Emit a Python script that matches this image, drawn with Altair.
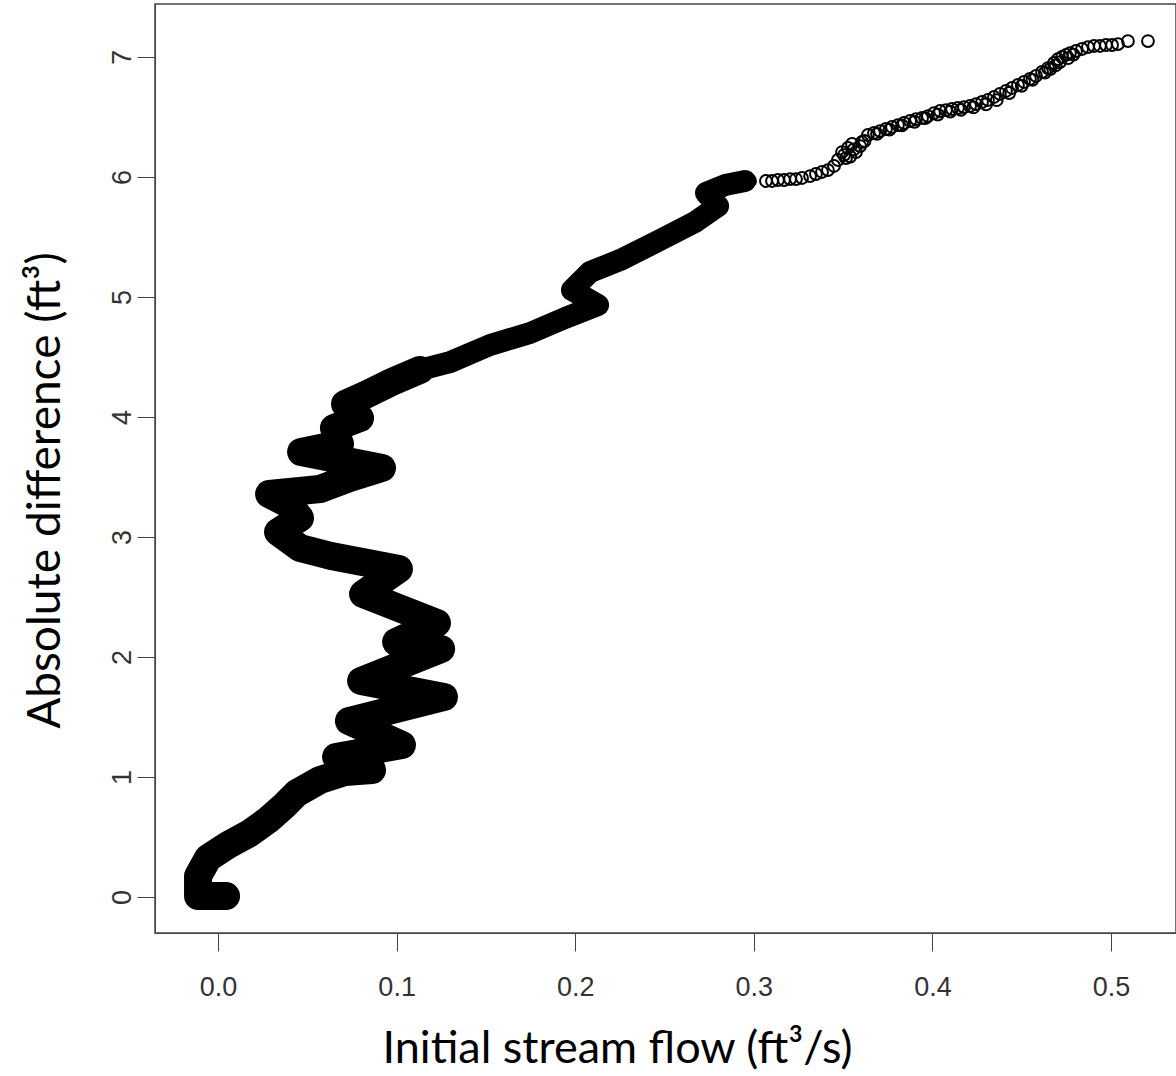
import altair as alt
import pandas as pd

# Dense part of the scatter (traced centre of the solid black band), ordered by y
band_x = [0.0045, -0.0112, -0.0112, -0.0056, 0.0056, 0.0179, 0.0280, 0.0375, 0.0442, 0.0571,
          0.0711, 0.0862, 0.0661, 0.1030, 0.0733, 0.1265, 0.0801, 0.1249, 0.0997, 0.1226,
          0.0812, 0.1013, 0.0633, 0.0459, 0.0336, 0.0459, 0.0403, 0.0286, 0.0571, 0.0739,
          0.0918, 0.0465, 0.0683, 0.0649, 0.0795, 0.0711, 0.0823, 0.0974, 0.1131,
          0.1299, 0.1523, 0.1747, 0.1943, 0.2128, 0.1982, 0.2083, 0.2251, 0.2475, 0.2671,
          0.2800, 0.2732, 0.2839, 0.2951]
band_y = [0.008, 0.008, 0.175, 0.325, 0.433, 0.533, 0.642, 0.767, 0.867, 0.975,
          1.042, 1.058, 1.167, 1.267, 1.467, 1.667, 1.800, 2.067, 2.125, 2.283,
          2.525, 2.733, 2.842, 2.908, 3.042, 3.158, 3.267, 3.358, 3.400, 3.492,
          3.575, 3.708, 3.775, 3.908, 3.992, 4.108, 4.183, 4.292, 4.392,
          4.458, 4.600, 4.700, 4.825, 4.933, 5.058, 5.208, 5.308, 5.475, 5.625,
          5.758, 5.867, 5.933, 5.967]

# Sparse upper part: individual open circles
pt_x = [0.2979, 0.3068, 0.3102, 0.3135, 0.3169, 0.3203, 0.3236, 0.3270, 0.3315, 0.3348,
        0.3382, 0.3415, 0.3449, 0.3471, 0.3494, 0.3516, 0.3527, 0.3550, 0.3572, 0.3595,
        0.3606, 0.3505, 0.3639, 0.3673, 0.3707, 0.3740, 0.3774, 0.3807, 0.3841, 0.3875,
        0.3908, 0.3942, 0.3975, 0.4009, 0.4043, 0.4076, 0.4110, 0.4143, 0.4177, 0.4211,
        0.4244, 0.4278, 0.4311, 0.4345, 0.4378, 0.4412, 0.4446, 0.4479, 0.4513, 0.4546,
        0.4580, 0.4614, 0.4647, 0.4681, 0.4714, 0.4703, 0.4726, 0.4748, 0.4770, 0.4804,
        0.4838, 0.4871, 0.4905, 0.4938, 0.4972, 0.5006, 0.5039, 0.5095, 0.5207,
        0.3540, 0.3560, 0.3620, 0.3690, 0.3760, 0.3830, 0.3900, 0.3960, 0.4030, 0.4100,
        0.4160, 0.4230, 0.4300, 0.4360, 0.4430, 0.4500, 0.4560, 0.4630, 0.4660, 0.4690,
        0.4760, 0.4790]
pt_y = [5.967, 5.967, 5.967, 5.975, 5.975, 5.983, 5.983, 5.992, 6.008, 6.025,
        6.042, 6.058, 6.092, 6.142, 6.208, 6.158, 6.242, 6.275, 6.208, 6.258,
        6.292, 6.183, 6.350, 6.367, 6.383, 6.400, 6.417, 6.433, 6.450, 6.467,
        6.483, 6.492, 6.508, 6.533, 6.550, 6.558, 6.567, 6.575, 6.583, 6.592,
        6.608, 6.625, 6.642, 6.667, 6.692, 6.717, 6.742, 6.767, 6.792, 6.817,
        6.842, 6.875, 6.908, 6.950, 6.958, 6.983, 7.000, 7.017, 7.033, 7.050,
        7.067, 7.083, 7.092, 7.092, 7.100, 7.100, 7.108, 7.133, 7.133,
        6.170, 6.230, 6.300, 6.360, 6.395, 6.430, 6.460, 6.490, 6.520, 6.545,
        6.560, 6.580, 6.605, 6.640, 6.700, 6.760, 6.810, 6.870, 6.900, 6.930,
        6.990, 7.020]

x_ticks = [0.0, 0.1, 0.2, 0.3, 0.4, 0.5]
y_ticks = [0, 1, 2, 3, 4, 5, 6, 7]

band = pd.DataFrame({"x": band_x, "y": band_y, "i": range(len(band_x))})
pts = pd.DataFrame({"x": band_x + pt_x, "y": band_y + pt_y})

xscale = alt.Scale(domain=[-0.0353, 0.5364], nice=False, zero=False)
yscale = alt.Scale(domain=[-0.3, 7.4417], nice=False, zero=False)

xaxis = alt.Axis(values=x_ticks, format=".1f", title="Initial stream flow (ft³/s)",
                 grid=False, tickSize=18, tickColor="#444", domainColor="#444",
                 labelFont="Liberation Sans", labelFontSize=27, labelColor="#333",
                 labelPadding=23, titleFont="Lato", titleFontSize=45, titleFontWeight="normal",
                 titleColor="black", titlePadding=26, titleX=462, titleAlign="center")
yaxis = alt.Axis(values=y_ticks, format="d", title="Absolute difference (ft³)",
                 grid=False, tickSize=18, tickColor="#444", domainColor="#444",
                 labelFont="Liberation Sans", labelFontSize=27, labelColor="#333",
                 labelAngle=-90, labelPadding=1, titleFont="Lato", titleFontSize=46,
                 titleFontWeight="normal", titleColor="black", titlePadding=39,
                 titleY=486, titleAlign="center")

base_band = alt.Chart(band)

band1 = base_band.transform_filter(alt.datum.y <= 4.4).mark_line(
    color="black", strokeWidth=28, strokeCap="round", strokeJoin="round"
).encode(
    x=alt.X("x:Q", scale=xscale, axis=xaxis),
    y=alt.Y("y:Q", scale=yscale, axis=yaxis),
    order="i:Q",
)

band2 = base_band.transform_filter(alt.datum.y >= 4.39).mark_line(
    color="black", strokeWidth=22, strokeCap="round", strokeJoin="round"
).encode(
    x=alt.X("x:Q", scale=xscale),
    y=alt.Y("y:Q", scale=yscale),
    order="i:Q",
)

circles = alt.Chart(pts).mark_point(
    shape="circle", filled=False, size=140, strokeWidth=2, color="black", opacity=1
).encode(
    x=alt.X("x:Q", scale=xscale),
    y=alt.Y("y:Q", scale=yscale),
)

chart = alt.layer(band1, band2, circles).properties(
    width=1021, height=929,
    padding={"left": 155, "top": 4, "right": 0, "bottom": 143},
    autosize="none",
    background="white",
).configure_view(stroke="#444", strokeWidth=1.5)

chart.save("out.html", embed_options={"renderer": "svg", "actions": False})
